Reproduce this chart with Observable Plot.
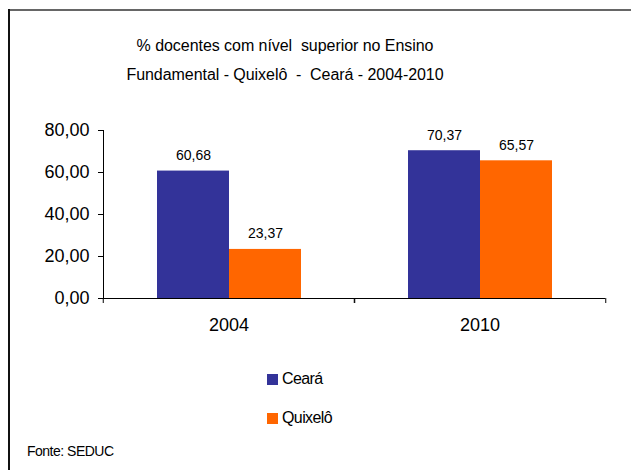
<!DOCTYPE html>
<html><head><meta charset="utf-8">
<script src="https://cdn.jsdelivr.net/npm/d3@7"></script>
<script src="https://cdn.jsdelivr.net/npm/@observablehq/plot@0.6"></script>
<style>
body{margin:0;background:#fff;font-family:"Liberation Sans",Arial,sans-serif;color:#000;}
#wrap{position:relative;width:631px;height:470px;overflow:hidden;background:#fff;}
#chart{position:absolute;left:0;top:0;}
#title{position:absolute;left:85px;width:400px;top:31px;text-align:center;font-size:16px;line-height:29px;letter-spacing:-0.05px;}
.frameTop{position:absolute;left:8px;top:9px;width:623px;height:2px;background:#666;}
.frameLeft{position:absolute;left:8px;top:9px;width:2px;height:461px;background:#111;}
.leg{position:absolute;left:267px;font-size:16px;letter-spacing:-0.6px;display:flex;align-items:center;}
.leg span.sw{display:inline-block;width:11px;height:11px;margin-right:4px;}
#caption{position:absolute;left:27px;top:443px;font-size:14px;letter-spacing:-0.5px;}
</style></head><body><div id="wrap">
<div id="chart"></div>
<div id="title">% docentes com nível&nbsp; superior no Ensino<br>Fundamental - Quixelô &nbsp;- &nbsp;Ceará - 2004-2010</div>
<div id="legend"></div>
<div id="caption">Fonte: SEDUC</div>
<div class="frameTop"></div><div class="frameLeft"></div>
</div>
<script>
const years = ["2004", "2010"];
const series = ["Ceará", "Quixelô"];
const ceara = [60.68, 70.37];
const quixelo = [23.37, 65.57];
const yTicks = [0, 20, 40, 60, 80];
const colors = ["#333399", "#FF6600"];

const rows = years.flatMap((yr, i) => [
  {year: yr, series: series[0], value: ceara[i]},
  {year: yr, series: series[1], value: quixelo[i]}
]);
const fmt = v => v.toFixed(2).replace(".", ",");

const W = 631, mL = 102, mR = 26;
const half = (W - mL - mR) / years.length / 2;

const plot = Plot.plot({
  width: W, height: 345,
  marginTop: 130, marginLeft: mL, marginRight: mR, marginBottom: 47,
  style: {fontFamily: "Liberation Sans, Arial, sans-serif", fontSize: "18px", background: "transparent", color: "#000", overflow: "visible"},
  fx: {domain: years, padding: 0, label: null},
  x: {domain: series, paddingInner: 0, paddingOuter: 0.734, axis: null},
  y: {domain: [0, 80], ticks: yTicks, tickFormat: fmt, tickSize: 5, tickPadding: 9, line: true, label: null},
  color: {domain: series, range: colors},
  marks: [
    Plot.barY(rows, {fx: "year", x: "series", y: "value", fill: "series"}),
    Plot.ruleY([0], {stroke: "#000"}),
    Plot.text(rows, {fx: "year", x: "series", y: "value", text: d => fmt(d.value), dy: -15.5, fontSize: 14, fill: "#000"}),
    Plot.axisFx({anchor: "bottom", tickSize: 0, tickPadding: 20, label: null, fontSize: 18}),
    Plot.axisFx({anchor: "bottom", tickSize: 5, tickFormat: () => "", dx: -half, label: null}),
    Plot.axisFx(years.slice(-1), {anchor: "bottom", tickSize: 5, tickFormat: () => "", dx: half, label: null})
  ]
});
document.getElementById("chart").appendChild(plot);

const legend = document.getElementById("legend");
const legTops = [370, 409];
series.forEach((s, i) => {
  const d = document.createElement("div");
  d.className = "leg";
  d.style.top = legTops[i] + "px";
  d.innerHTML = `<span class="sw" style="background:${colors[i]}"></span>${s}`;
  legend.appendChild(d);
});
</script>
</body></html>
